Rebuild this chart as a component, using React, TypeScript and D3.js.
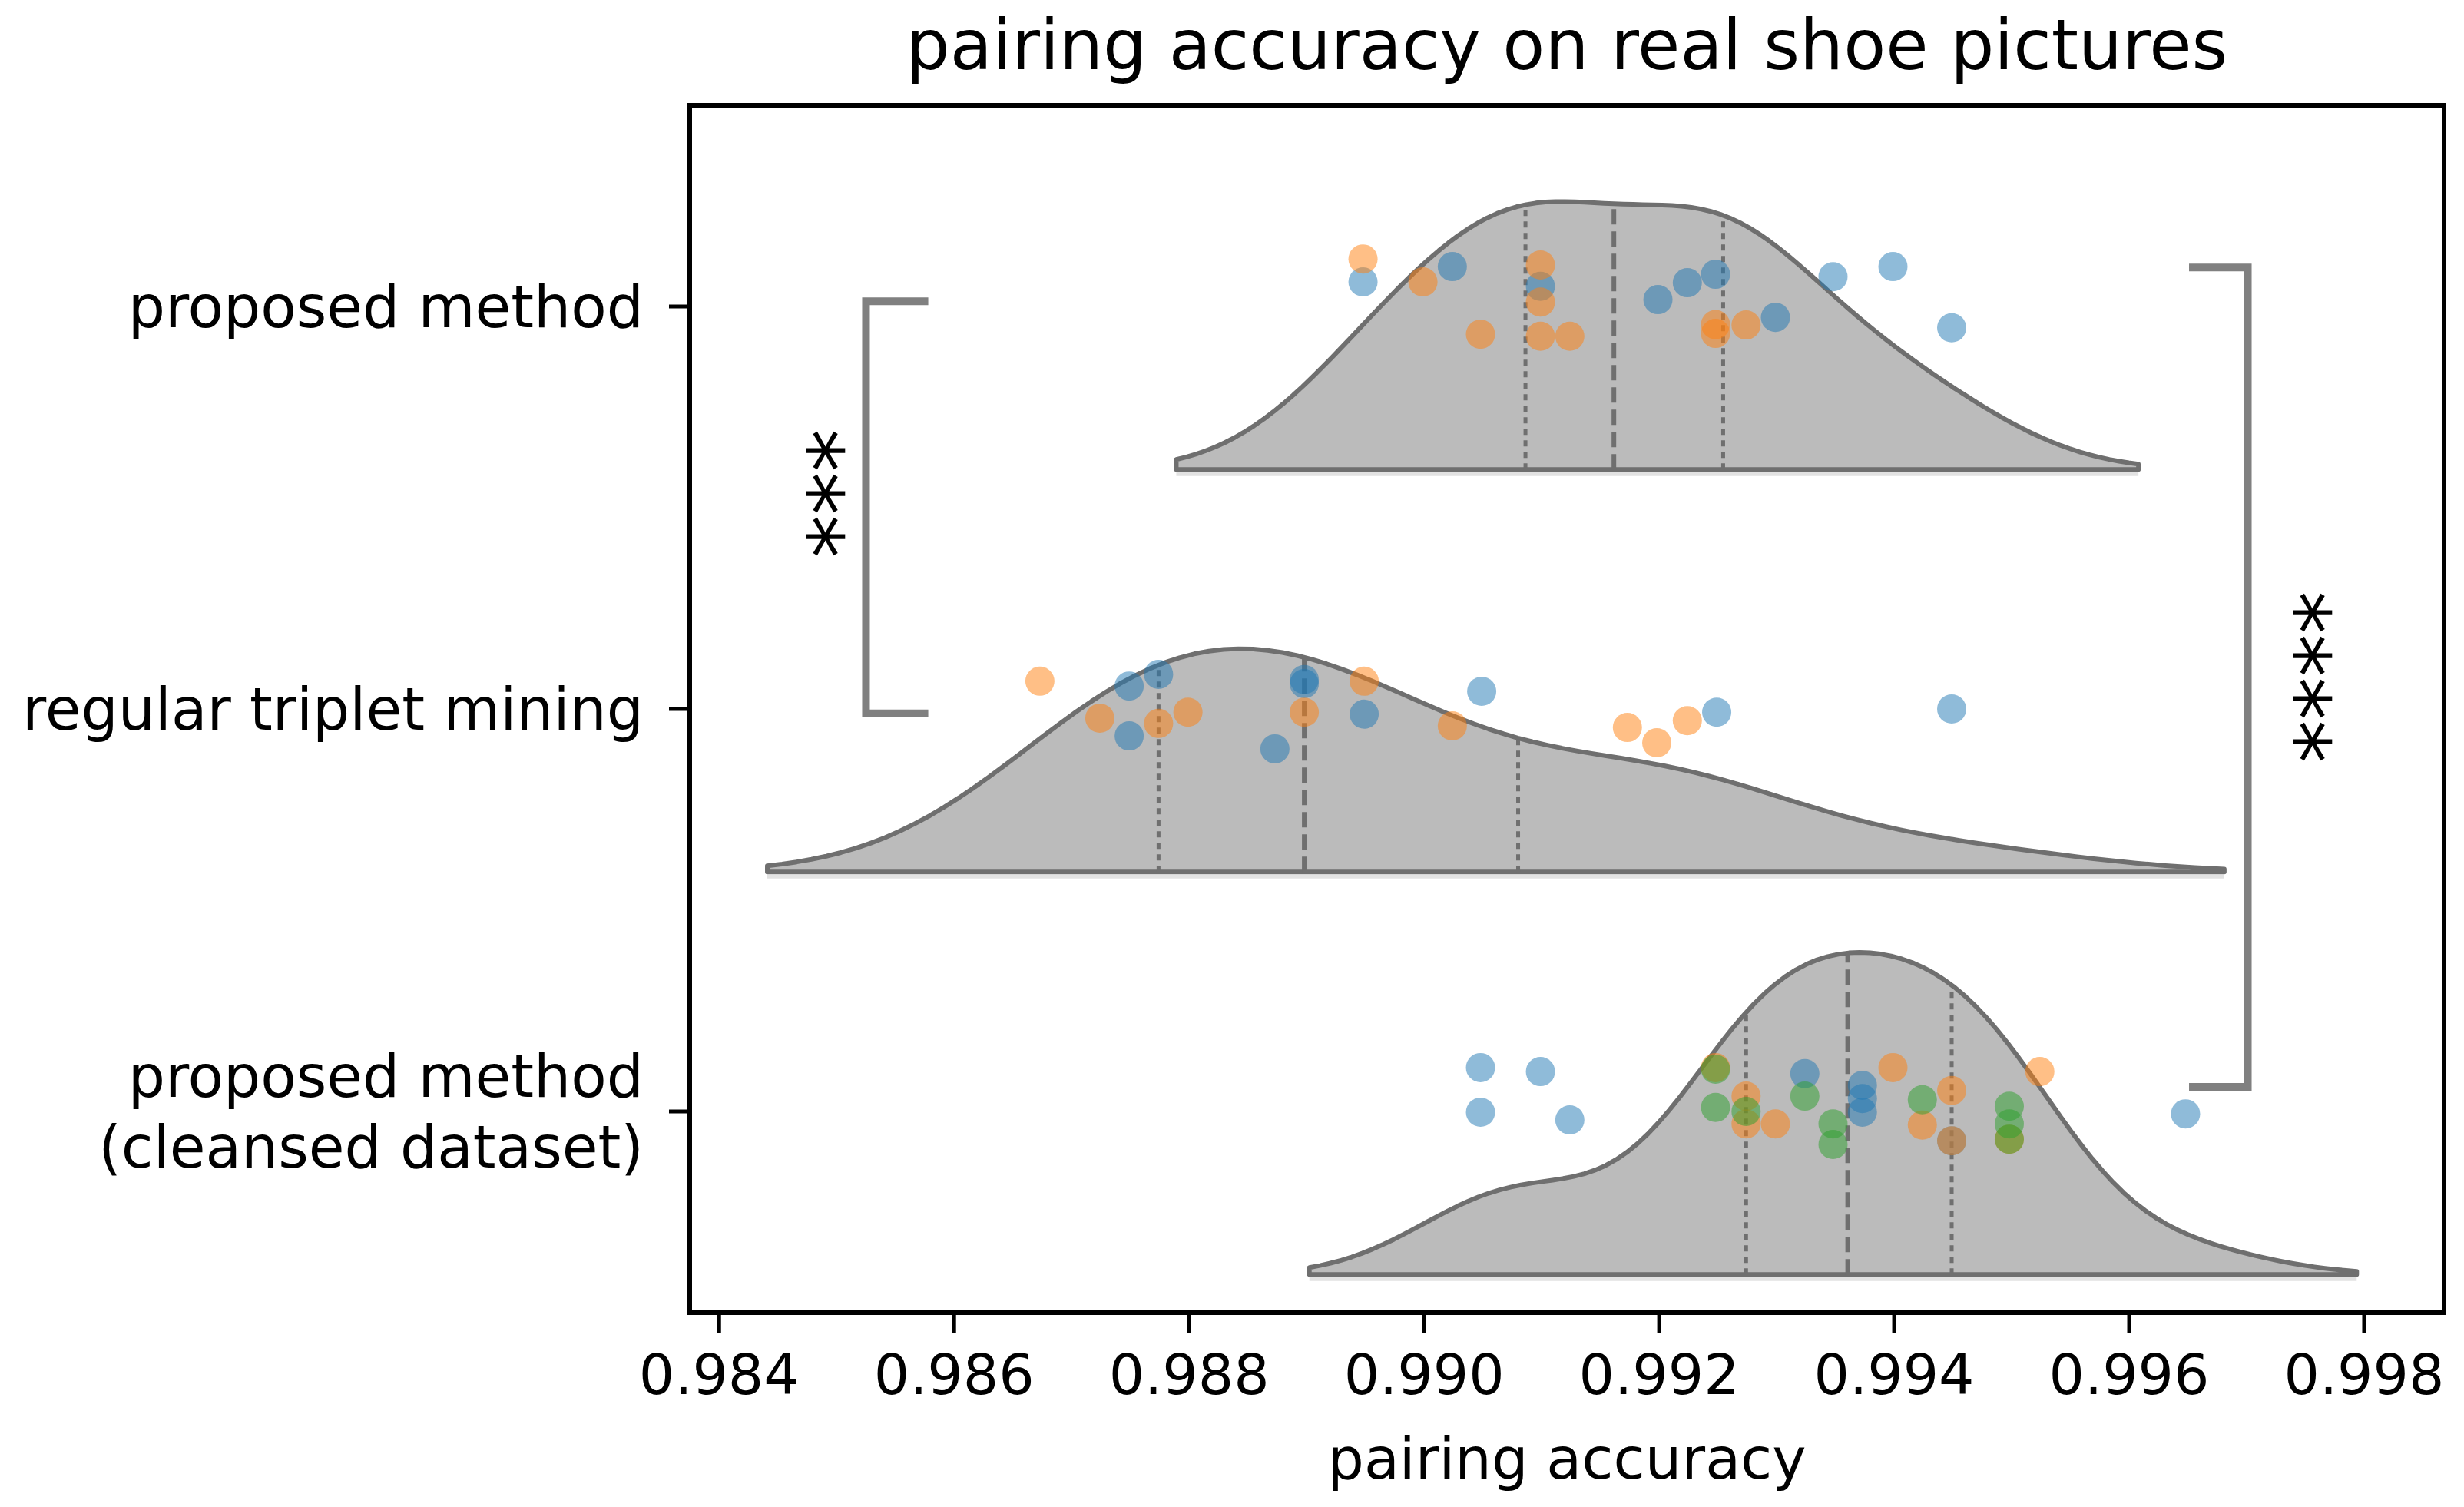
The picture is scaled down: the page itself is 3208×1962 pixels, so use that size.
import React, { useRef, useEffect } from "react";
import * as d3 from "d3";

const W = 3208,
  H = 1962;

const categories = [
  "proposed method",
  "regular triplet mining",
  "proposed method\n(cleansed dataset)"
];

// hue: 0 = blue, 1 = orange, 2 = green ; jitter = strip offset (fraction of a band)
const proposedAcc = [0.98948, 0.98948, 0.99024, 0.98999, 0.99099, 0.99099, 0.99099, 0.99048, 0.99099, 0.99124, 0.99199, 0.99224, 0.99248, 0.99248, 0.99248, 0.99274, 0.99299, 0.99348, 0.99399, 0.99449];
const proposedHue = [1, 0, 0, 1, 1, 0, 1, 1, 1, 1, 0, 0, 0, 1, 1, 1, 0, 0, 0, 0];
const proposedJitter = [-0.118, -0.061, -0.099, -0.061, -0.103, -0.05, -0.011, 0.069, 0.074, 0.074, -0.017, -0.059, -0.08, 0.067, 0.045, 0.046, 0.027, -0.074, -0.099, 0.053];

const tripletAcc = [0.98673, 0.98749, 0.98774, 0.98724, 0.98774, 0.98799, 0.98749, 0.98898, 0.98898, 0.98898, 0.98949, 0.98949, 0.98873, 0.99024, 0.99049, 0.99173, 0.99198, 0.99224, 0.99249, 0.99449];
const tripletHue = [1, 0, 0, 1, 1, 1, 0, 0, 0, 1, 1, 0, 0, 1, 0, 1, 1, 1, 0, 0];
const tripletJitter = [-0.069, -0.057, -0.086, 0.023, 0.036, 0.008, 0.067, -0.063, -0.073, 0.008, -0.069, 0.013, 0.099, 0.042, -0.044, 0.046, 0.084, 0.029, 0.008, 0.0];

const cleansedAcc = [0.99048, 0.99099, 0.99048, 0.99124, 0.99248, 0.99248, 0.99248, 0.99274, 0.99274, 0.99274, 0.99299, 0.99324, 0.99324, 0.99348, 0.99348, 0.99373, 0.99373, 0.99373, 0.99399, 0.99424, 0.99424, 0.99449, 0.99449, 0.99449, 0.99498, 0.99498, 0.99498, 0.99498, 0.99524, 0.99648];
const cleansedHue = [0, 0, 0, 0, 1, 2, 2, 1, 2, 1, 1, 0, 2, 2, 2, 0, 0, 0, 1, 2, 1, 1, 1, 0, 2, 2, 2, 1, 1, 0];
const cleansedJitter = [-0.109, -0.099, 0.002, 0.021, -0.109, -0.105, -0.01, -0.038, 0.0, 0.031, 0.031, -0.094, -0.038, 0.031, 0.082, -0.065, 0.002, -0.032, -0.109, -0.029, 0.034, -0.052, 0.073, 0.073, -0.013, 0.031, 0.069, 0.069, -0.099, 0.006];

const xTicks = [0.984, 0.986, 0.988, 0.99, 0.992, 0.994, 0.996, 0.998];
const xDomain = [0.98375, 0.99868];

// significance brackets: between category indices
const comparisons = [
  { a: 0, b: 1, label: "***", side: "left" },
  { a: 0, b: 2, label: "****", side: "right" }
];

const groups = [
  { acc: proposedAcc, hue: proposedHue, jitter: proposedJitter },
  { acc: tripletAcc, hue: tripletHue, jitter: tripletJitter },
  { acc: cleansedAcc, hue: cleansedHue, jitter: cleansedJitter }
];

const palette = ["#1f77b4", "#ff7f0e", "#2ca02c"];

// gaussian kde, scott bandwidth, cut = 2, like seaborn
const kde = (vals: number[]) => {
  const n = vals.length;
  const bw = (d3.deviation(vals) as number) * Math.pow(n, -1 / 5);
  const lo = (d3.min(vals) as number) - 2 * bw,
    hi = (d3.max(vals) as number) + 2 * bw;
  const f = (x: number) =>
    d3.sum(vals, v => Math.exp(-0.5 * ((x - v) / bw) ** 2)) /
    (n * bw * Math.sqrt(2 * Math.PI));
  const grid = d3.range(100).map(i => lo + ((hi - lo) * i) / 99);
  return { f, pts: grid.map(x => [x, f(x)] as [number, number]) };
};

function App() {
  const ref = useRef<SVGSVGElement | null>(null);

  const margin = { top: 137, right: 26, bottom: 253, left: 898 };

  useEffect(() => {
    const svg = d3.select(ref.current);
    svg.selectAll("*").remove();
    const font = "DejaVu Sans, Verdana, sans-serif";

    const x = d3
      .scaleLinear()
      .domain(xDomain)
      .range([margin.left, W - margin.right]);

    const y = d3
      .scaleBand()
      .domain(d3.range(categories.length).map(String))
      .range([margin.top, H - margin.bottom])
      .padding(0);
    const band = y.bandwidth();
    const cy = (i: number) => (y(String(i)) as number) + band / 2;

    const dens = groups.map(g => kde(g.acc));
    const maxD = d3.max(dens, d => d3.max(d.pts, p => p[1])) as number;
    const k = (0.8 * band) / maxD;

    // violins (upper half)
    groups.forEach((g, i) => {
      const base = cy(i) + 0.405 * band;
      const area = d3
        .area<[number, number]>()
        .x(d => x(d[0]))
        .y0(base)
        .y1(d => base - d[1] * k);
      // faint shadow under the base line
      svg
        .append("line")
        .attr("x1", x(dens[i].pts[0][0]))
        .attr("x2", x(dens[i].pts[dens[i].pts.length - 1][0]))
        .attr("y1", base + 6)
        .attr("y2", base + 6)
        .attr("stroke", "#e2e2e2")
        .attr("stroke-width", 5);
      svg
        .append("path")
        .attr("d", area(dens[i].pts) + "Z")
        .attr("fill", "#bbbbbb")
        .attr("stroke", "#6f6f6f")
        .attr("stroke-width", 6)
        .attr("stroke-linejoin", "round");

      const sorted = g.acc.slice().sort(d3.ascending);
      [0.25, 0.5, 0.75].forEach(p => {
        const q = d3.quantile(sorted, p) as number;
        svg
          .append("line")
          .attr("x1", x(q))
          .attr("x2", x(q))
          .attr("y1", base)
          .attr("y2", base - dens[i].f(q) * k)
          .attr("stroke", "#6f6f6f")
          .attr("stroke-width", p === 0.5 ? 6 : 5)
          .attr("stroke-dasharray", p === 0.5 ? "20 9" : "8 7");
      });
    });

    // strip points
    const pts = groups.flatMap((g, i) =>
      g.acc.map((v, j) => ({ v, hue: g.hue[j], cat: i, jit: g.jitter[j] }))
    );
    pts.sort((a, b) => a.hue - b.hue);
    svg
      .append("g")
      .selectAll("circle")
      .data(pts)
      .enter()
      .append("circle")
      .attr("cx", d => x(d.v))
      .attr("cy", d => cy(d.cat) + d.jit * band)
      .attr("r", 19)
      .attr("fill", d => palette[d.hue])
      .attr("fill-opacity", 0.5);

    // brackets
    comparisons.forEach(c => {
      const g = svg.append("g");
      if (c.side === "left") {
        const xl = x(0.98525),
          xe = x(0.98578);
        const y1 = cy(c.a) - 0.013 * band,
          y2 = cy(c.b) + 0.011 * band;
        g.append("path")
          .attr("d", `M${xe},${y1}H${xl}V${y2}H${xe}`)
          .attr("fill", "none")
          .attr("stroke", "#808080")
          .attr("stroke-width", 10);
        g.append("text")
          .attr("transform", `translate(${x(0.98478)},${(y1 + y2) / 2 - 18}) rotate(90)`)
          .attr("text-anchor", "middle")
          .attr("dominant-baseline", "central")
          .attr("font-family", font)
          .attr("font-size", 112)
          .text(c.label);
      } else {
        const xl = x(0.99701),
          xs = x(0.99651);
        const y1 = cy(c.a) - 0.097 * band,
          y2 = cy(c.b) - 0.061 * band;
        g.append("path")
          .attr("d", `M${xs},${y1}H${xl}V${y2}H${xs}`)
          .attr("fill", "none")
          .attr("stroke", "#808080")
          .attr("stroke-width", 10);
        g.append("text")
          .attr("transform", `translate(${x(0.99744)},${(y1 + y2) / 2}) rotate(90)`)
          .attr("text-anchor", "middle")
          .attr("dominant-baseline", "central")
          .attr("font-family", font)
          .attr("font-size", 112)
          .text(c.label);
      }
    });

    // frame
    svg
      .append("rect")
      .attr("x", margin.left)
      .attr("y", margin.top)
      .attr("width", W - margin.right - margin.left)
      .attr("height", H - margin.bottom - margin.top)
      .attr("fill", "none")
      .attr("stroke", "#000")
      .attr("stroke-width", 6);

    // x axis
    const xb = H - margin.bottom;
    const xa = svg.append("g");
    xTicks.forEach(t => {
      xa.append("line")
        .attr("x1", x(t))
        .attr("x2", x(t))
        .attr("y1", xb)
        .attr("y2", xb + 27)
        .attr("stroke", "#000")
        .attr("stroke-width", 5);
      xa.append("text")
        .attr("x", x(t))
        .attr("y", 1815)
        .attr("text-anchor", "middle")
        .attr("font-family", font)
        .attr("font-size", 73)
        .attr("fill", "#000")
        .text(d3.format(".3f")(t));
    });
    xa.append("text")
      .attr("x", (margin.left + W - margin.right) / 2)
      .attr("y", 1925)
      .attr("text-anchor", "middle")
      .attr("font-family", font)
      .attr("font-size", 75)
      .text("pairing accuracy");

    // y axis
    categories.forEach((c, i) => {
      svg
        .append("line")
        .attr("x1", margin.left)
        .attr("x2", margin.left - 27)
        .attr("y1", cy(i))
        .attr("y2", cy(i))
        .attr("stroke", "#000")
        .attr("stroke-width", 5);
      const lines = c.split("\n");
      const t = svg
        .append("text")
        .attr("text-anchor", "end")
        .attr("font-family", font)
        .attr("font-size", 76)
        .attr("fill", "#000");
      lines.forEach((l, j) => {
        t.append("tspan")
          .attr("x", 838)
          .attr("y", cy(i) + (j - (lines.length - 1) / 2) * 92)
          .attr("dy", "0.36em")
          .text(l);
      });
    });

    // title
    svg
      .append("text")
      .attr("x", (margin.left + W - margin.right) / 2)
      .attr("y", 90)
      .attr("text-anchor", "middle")
      .attr("font-family", font)
      .attr("font-size", 90)
      .text("pairing accuracy on real shoe pictures");
  }, []);

  return (
    <svg
      ref={ref}
      width={W}
      height={H}
      style={{ position: "absolute", left: 0, top: 0, background: "#fff" }}
    />
  );
}

export default App;
